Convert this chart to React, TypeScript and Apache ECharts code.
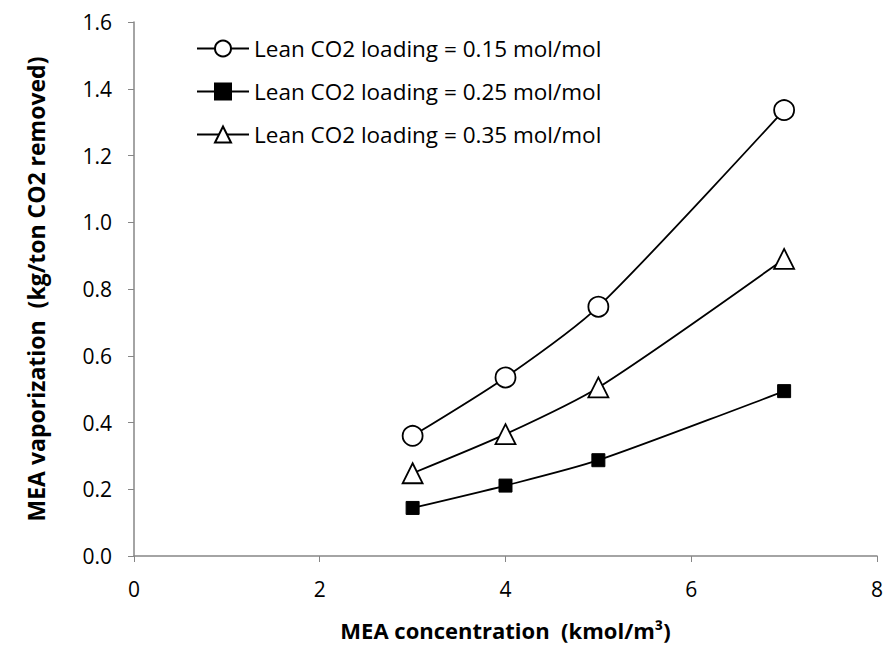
import React, { useEffect, useRef } from "react";
import * as echarts from "echarts";

const xValues = [3, 4, 5, 7];
const lean015 = [0.36, 0.535, 0.747, 1.336];
const lean025 = [0.144, 0.211, 0.287, 0.494];
const lean035 = [0.248, 0.365, 0.505, 0.89];
const seriesNames = [
  "Lean CO2 loading = 0.15 mol/mol",
  "Lean CO2 loading = 0.25 mol/mol",
  "Lean CO2 loading = 0.35 mol/mol",
];

const font = "'Open Sans', 'Noto Sans', sans-serif";

export default function App() {
  const ref = useRef<HTMLDivElement>(null);
  useEffect(() => {
    const chart = echarts.init(ref.current!, null, { renderer: "svg" });
    const toPairs = (ys: number[]) => xValues.map((x, i) => [x, ys[i]]);
    const common = {
      type: "line",
      smooth: 0.25,
      lineStyle: { color: "#000", width: 1.8 },
    };
    chart.setOption({
      animation: false,
      backgroundColor: "#fff",
      grid: { left: 134, right: 9, top: 22, bottom: 90, containLabel: false },
      legend: {
        orient: "vertical",
        left: 191,
        top: 32,
        itemGap: 20,
        itemWidth: 52,
        itemHeight: 20,
        textStyle: { fontFamily: font, fontSize: 22.5, color: "#000" },
        data: seriesNames,
      },
      xAxis: {
        type: "value",
        min: 0,
        max: 8,
        interval: 2,
        name: "MEA concentration  (kmol/m³)",
        nameLocation: "middle",
        nameGap: 63,
        nameTextStyle: { fontFamily: font, fontSize: 22, fontWeight: "bold", color: "#000" },
        axisLine: { lineStyle: { color: "#868686", width: 1.5 } },
        axisTick: { show: true, length: 6, lineStyle: { color: "#868686" } },
        axisLabel: { fontFamily: font, fontSize: 21, color: "#000", margin: 22 },
        splitLine: { show: false },
      },
      yAxis: {
        type: "value",
        min: 0,
        max: 1.6,
        interval: 0.2,
        name: "MEA vaporization  (kg/ton CO2 removed)",
        nameLocation: "middle",
        nameGap: 87,
        nameTextStyle: { fontFamily: font, fontSize: 23, fontWeight: "bold", color: "#000" },
        axisLine: { show: true, lineStyle: { color: "#868686", width: 1.5 } },
        axisTick: { show: true, length: 6, lineStyle: { color: "#868686" } },
        axisLabel: {
          fontFamily: font,
          fontSize: 21,
          color: "#000",
          margin: 22,
          formatter: (v: number) => v.toFixed(1),
        },
        splitLine: { show: false },
      },
      series: [
        {
          ...common,
          name: seriesNames[0],
          data: toPairs(lean015),
          symbol: "circle",
          symbolSize: 20,
          itemStyle: { color: "#fff", borderColor: "#000", borderWidth: 1.8 },
        },
        {
          ...common,
          name: seriesNames[1],
          data: toPairs(lean025),
          symbol: "rect",
          symbolSize: 13,
          itemStyle: { color: "#000", borderColor: "#000", borderWidth: 1 },
        },
        {
          ...common,
          name: seriesNames[2],
          data: toPairs(lean035),
          symbol: "triangle",
          symbolSize: 20,
          itemStyle: { color: "#fff", borderColor: "#000", borderWidth: 1.8 },
        },
      ],
    });
    return () => chart.dispose();
  }, []);
  return (
    <div
      ref={ref}
      style={{ position: "fixed", left: 0, top: 0, width: 886, height: 646 }}
    />
  );
}
